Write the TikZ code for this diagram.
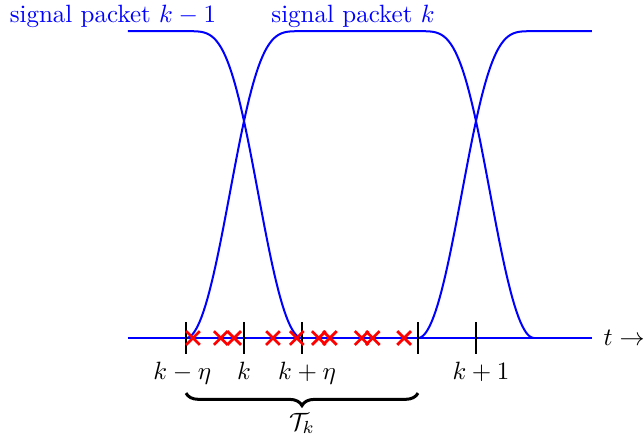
\documentclass[tikz,border=0pt]{standalone}
\usepackage{xcolor}
\usepackage{tikz}
\usepackage{amsmath}
\usepackage{amssymb}
\usetikzlibrary{
  arrows.meta,
  shapes.misc,
  positioning,
  calc,
  decorations.pathreplacing
}
\definecolor{sgBlue}{HTML}{0000FF}
\definecolor{sgRed}{HTML}{FF0000}
\tikzset{
  packet/.style={thick, sgBlue, line join=round},
  axisbase/.style={thick, sgBlue},
  tickline/.style={line width=1pt, black},
  ticklabel/.style={font=\normalsize, inner sep=2pt},
  sample/.style={cross out, draw=sgRed, line width=1.1pt, minimum size=4.4pt, inner sep=0pt},
  toplabel/.style={text=sgBlue, inner sep=0pt},
  brace/.style={decorate, decoration={brace, mirror, amplitude=5pt}, very thick}
}
\newcommand{\hgt}{5.29}
% power complementary edges
\newcommand{\riseat}[1]{\hgt*sin(90*(sin(45*(#1)))^2)}
\newcommand{\fallat}[1]{\hgt*cos(90*(sin(45*(#1)))^2)}

\begin{document}
\begin{tikzpicture}[x=23.2pt, y=23.2pt]
  \useasboundingbox (-4.207,-1.672) rectangle (6.897,5.828);

  % time axis
  \coordinate (t0) at (-2,0);
  \coordinate (t1) at (6,0);
  \draw[axisbase] (t0) -- (t1);
  \node[right=4.5pt of t1, inner sep=0pt] (tlab) {$t \rightarrow$};

  % packet k-1, k, k+1
  \draw[packet] (-2,\hgt) -- (-1,\hgt)
    -- plot[domain=-1:1, samples=60] (\x, {\fallat{\x+1}});
  \draw[packet] plot[domain=-1:1, samples=60] (\x, {\riseat{\x+1}})
    -- (3,\hgt)
    -- plot[domain=3:5, samples=60] (\x, {\fallat{\x-3}});
  \draw[packet] plot[domain=3:5, samples=60] (\x, {\riseat{\x-3}})
    -- (6,\hgt);

  \node[toplabel] (pkprev) at (-2.26,5.55) {signal packet $k-1$};
  \node[toplabel] (pknow) at (1.88,5.55) {signal packet $k$};

  % ticks
  \foreach \p/\n in {-1/km, 0/k, 1/kp, 3/nm, 4/n}
    \draw[tickline] (\p,0.27) -- (\p,-0.27) coordinate (tick\n);
  \node[ticklabel, below=1pt of tickkm, xshift=-1.5pt] (lkm) {$k-\eta$};
  \node[ticklabel, below=1pt of tickk] (lk) {$k$};
  \node[ticklabel, below=1pt of tickkp, xshift=2pt] (lkp) {$k+\eta$};
  \node[ticklabel, below=1pt of tickn, xshift=2pt] (ln) {$k+1$};

  % samples
  \foreach \s [count=\i] in {-0.88,-0.40,-0.17,0.50,0.91,1.29,1.48,2.03,2.22,2.76}
    \node[sample] (smp\i) at (\s,0) {};

  % window
  \coordinate (bl) at (-1,-0.95);
  \coordinate (br) at (3,-0.95);
  \draw[brace] (bl) -- (br) node[midway, below=4pt] (tau) {$\mathcal{T}_k$};
\end{tikzpicture}
\end{document}
